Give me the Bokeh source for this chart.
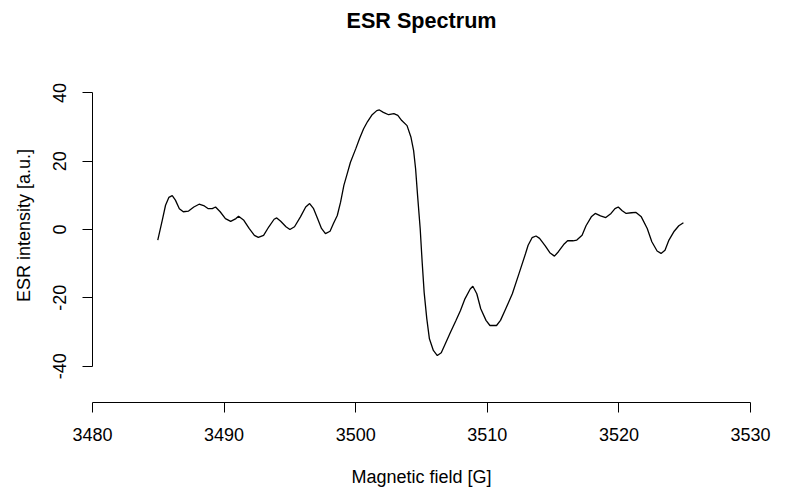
"""ESRスペクトルのグラフ."""
import math
import typing as typ
import bokeh.models as bm
import bokeh.plotting as bp
from bokeh.embed import file_html
from bokeh.resources import INLINE

# 磁場 [G]
FIELD: typ.List[float] = [
    3484.96, 3485.3, 3485.55, 3485.8, 3486.06, 3486.3, 3486.6, 3486.9, 3487.3, 3487.7,
    3488.1, 3488.5, 3488.8, 3489.1, 3489.35, 3489.7, 3490.1, 3490.5, 3490.9, 3491.1,
    3491.5, 3491.9, 3492.3, 3492.6, 3493.0, 3493.4, 3493.8, 3494.0, 3494.3, 3494.7,
    3495.0, 3495.35, 3495.8, 3496.2, 3496.5, 3496.8, 3497.1, 3497.4, 3497.7, 3498.05,
    3498.3, 3498.6, 3498.85, 3499.1, 3499.35, 3499.6, 3500.0, 3500.3, 3500.6, 3500.9,
    3501.25, 3501.6, 3501.8, 3502.1, 3502.5, 3502.9, 3503.2, 3503.5, 3503.9, 3504.2,
    3504.4, 3504.55, 3504.7, 3504.9, 3505.05, 3505.2, 3505.4, 3505.6, 3505.9, 3506.2,
    3506.5, 3506.8, 3507.2, 3507.6, 3507.96, 3508.3, 3508.7, 3508.9, 3509.2, 3509.5,
    3509.9, 3510.2, 3510.7, 3511.0, 3511.4, 3511.9, 3512.4, 3512.9, 3513.1, 3513.4,
    3513.7, 3513.97, 3514.4, 3514.75, 3515.1, 3515.4, 3515.8, 3516.1, 3516.5, 3516.8,
    3517.2, 3517.5, 3517.9, 3518.2, 3518.6, 3519.0, 3519.4, 3519.7, 3519.95, 3520.25,
    3520.55, 3520.95, 3521.3, 3521.7, 3522.15, 3522.5, 3522.9, 3523.2, 3523.5, 3523.8,
    3524.2, 3524.55, 3524.9,
]
# ESR強度 [a.u.]
INTENSITY: typ.List[float] = [
    -3.1, 2.7, 7.1, 9.4, 9.9, 8.6, 6.1, 5.2, 5.4, 6.6,
    7.4, 6.9, 6.1, 6.1, 6.6, 5.2, 3.2, 2.4, 3.2, 3.9,
    2.7, 0.3, -1.7, -2.3, -1.7, 0.8, 3.0, 3.4, 2.4, 0.8,
    0.0, 0.8, 3.7, 6.6, 7.6, 6.1, 3.2, 0.3, -1.2, -0.5,
    1.7, 4.1, 8.0, 12.9, 16.3, 19.7, 23.6, 26.7, 29.5, 31.6,
    33.6, 34.8, 35.0, 34.3, 33.6, 33.9, 33.4, 31.9, 30.4, 27.0,
    23.1, 17.8, 10.0, 0.2, -9.6, -18.4, -26.1, -32.0, -35.4, -36.9,
    -36.1, -33.5, -30.1, -26.8, -23.7, -20.3, -17.4, -16.6, -18.8, -23.2,
    -26.6, -28.1, -28.1, -26.6, -23.2, -18.8, -13.0, -7.1, -4.6, -2.4,
    -1.9, -2.6, -4.8, -6.8, -7.8, -6.5, -4.4, -3.3, -3.3, -3.1,
    -1.7, 1.1, 3.7, 4.7, 4.0, 3.5, 4.7, 6.1, 6.6, 5.5,
    4.7, 4.9, 5.0, 3.7, 0.3, -3.6, -6.3, -7.0, -6.1, -3.1,
    -0.5, 1.1, 2.0,
]
X_TICKS: typ.List[int] = [3480, 3490, 3500, 3510, 3520, 3530]
Y_TICKS: typ.List[int] = [-40, -20, 0, 20, 40]
TITLE: str = "ESR Spectrum"
X_LABEL: str = "Magnetic field [G]"
Y_LABEL: str = "ESR intensity [a.u.]"
FONT: str = "Liberation Sans"

# フレームをキャンバス全体に広げ、Rの余白はデータ座標で再現する
# x: 13.16px/G (3480が左から92px), y: 3.416px/単位 (0が上から229px)
X_RANGE: typ.Tuple[float, float] = (3473.01, 3533.72)
Y_RANGE: typ.Tuple[float, float] = (-77.58, 67.04)
X_AXIS_AT: float = -50.64
TITLE_POS: typ.Tuple[float, float] = (3505.0, 61.2)
X_LABEL_POS: typ.Tuple[float, float] = (3505.0, -72.6)
Y_LABEL_POS: typ.Tuple[float, float] = (3474.83, 1.17)


def style_axis(axis: bm.Axis, ticks: typ.List[int]) -> None:
    """Rの軸っぽくする."""
    axis.ticker = bm.FixedTicker(ticks=ticks)
    axis.bounds = (ticks[0], ticks[-1])
    # Bokehの「−」ではなくRと同じ「-」を使う
    axis.major_label_overrides = {t: str(t) for t in ticks}
    axis.axis_line_color = "black"
    axis.axis_line_width = 1
    axis.major_tick_line_color = "black"
    axis.major_tick_in = 0
    axis.major_tick_out = 10
    axis.minor_tick_line_color = None
    axis.major_label_text_font = FONT
    axis.major_label_text_font_size = "18px"
    axis.major_label_text_color = "black"
    axis.major_label_standoff = 16


def add_text(fig: bp.figure, pos: typ.Tuple[float, float], text: str, **kwargs: typ.Any) -> None:
    """文字を置く."""
    label: bm.Label = bm.Label(
        x=pos[0],
        y=pos[1],
        text=text,
        text_align="center",
        text_font=FONT,
        text_color="black",
        **kwargs,
    )
    fig.add_layout(label)


def make_graph() -> bp.figure:
    """グラフを描く."""
    source: bp.ColumnDataSource = bp.ColumnDataSource({"field": FIELD, "intensity": INTENSITY})
    fig: bp.figure = bp.figure(
        width=799,
        height=494,
        x_range=bm.Range1d(*X_RANGE),
        y_range=bm.Range1d(*Y_RANGE),
        output_backend="svg",
        toolbar_location=None,
        min_border=0,
    )
    fig.outline_line_color = None
    fig.grid.visible = False

    for axis in fig.xaxis:
        style_axis(axis, X_TICKS)
        axis.fixed_location = X_AXIS_AT
    for axis in fig.yaxis:
        style_axis(axis, Y_TICKS)
        axis.fixed_location = X_TICKS[0]
        axis.major_label_orientation = "vertical"

    add_text(fig, TITLE_POS, TITLE, text_baseline="middle", text_font_size="21.6px", text_font_style="bold")
    add_text(fig, X_LABEL_POS, X_LABEL, text_baseline="alphabetic", text_font_size="18px")
    add_text(fig, Y_LABEL_POS, Y_LABEL, text_baseline="alphabetic", text_font_size="18px", angle=math.pi / 2)

    fig.line("field", "intensity", source=source, line_color="black", line_width=1.3)
    return fig


def main() -> None:
    """メイン."""
    fig: bp.figure = make_graph()
    with open("out.html", "w") as f:
        f.write(file_html(fig, INLINE))


if __name__ == "__main__":
    main()
